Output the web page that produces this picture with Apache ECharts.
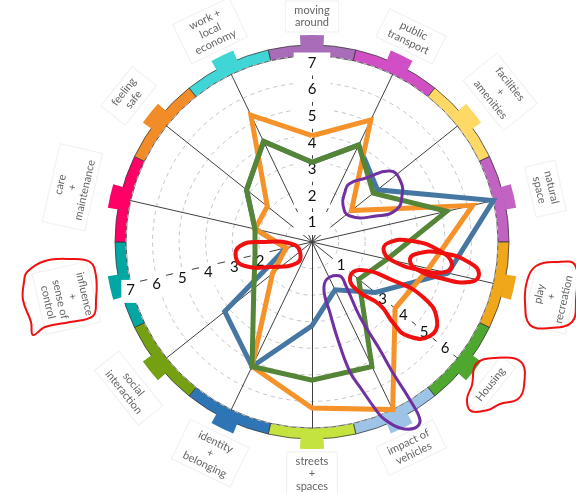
<!DOCTYPE html>
<html><head><meta charset="utf-8">
<script src="https://cdn.jsdelivr.net/npm/echarts@6/dist/echarts.min.js"></script>
<style>html,body{margin:0;padding:0;background:#fff}#c{width:576px;height:493px}</style>
</head><body><div id="c"></div>
<script>
// ---- data ----
const categories = ['moving\naround','public\ntransport','facilities\n+\namenities','natural\nspace','play\n+\nrecreation','Housing','impact of\nvehicles','streets\n+\nspaces','identity\n+\nbelonging','social\ninteraction','influence\n+\nsense of\ncontrol','care\n+\nmaintenance','feeling\nsafe','work +\nlocal\neconomy'];
const orangeValues = [4.0, 5.1, 1.9, 6.2, 4.5, 4.0, 7.0, 6.25, 5.2, 1.9, 1.0, 2.2, 2.15, 5.3];
const greenValues  = [3.0, 4.05, 2.95, 5.2, 2.9, 2.25, 5.2, 5.2, 5.2, 2.8, 2.2, 2.2, 3.15, 4.2];
const blueValues   = [3.0, 4.05, 3.15, 7.0, 5.25, 3.05, 2.0, 3.15, 5.2, 4.2, 1.0, 2.2, 3.15, 4.2];
const scaleMin = 0, scaleMax = 7;
const scaleTicks = [1, 2, 3, 4, 5, 6, 7];

// ---- styles ----
const ringColors = ['#A96CB9','#D14FC4','#FFD966','#C262C2','#F0A71A','#4EA72E','#9DC3E6','#C4E33F','#2E75B6','#74A012','#02A7A4','#FF0066','#F28C28','#40D6D6'];
const cx = 312, cy = 242, R = 186;
const N = categories.length;
// radar indicators run counter-clockwise, the reference runs clockwise
const order = [0].concat(categories.map((_, i) => i).slice(1).reverse());
const reorder = arr => order.map(i => arr[i]);

const labelAxes = {
  0:  {align: 'center', hide: [], pad: [3, 14, 5, 14]},
  10: {align: 'center', hide: [1], pad: [3, 5, 5, 5]},
  5:  {align: 'left',   hide: [2, 7], pad: [3, 4, 5, 4]}
};

const indicator = order.map(i => {
  const ind = {name: categories[i], min: scaleMin, max: scaleMax};
  const la = labelAxes[i];
  if (la) {
    ind.axisLabel = {
      show: true, margin: 0, align: la.align, verticalAlign: 'top', showMinLabel: false, showMaxLabel: true,
      hideOverlap: false,
      formatter: v => (scaleTicks.indexOf(v) < 0 || la.hide.indexOf(v) >= 0) ? '' : '{n|' + v + '}',
      rich: {n: {fontFamily: 'Lato', fontSize: 15, color: '#111', backgroundColor: '#fff', padding: la.pad, lineHeight: 16}}
    };
  }
  return ind;
});

function labelAngle(i) { return i * 360 / N; }
function labelRotate(i) {
  const th = labelAngle(i);
  if (th <= 90) return -th;
  if (th < 270) return 180 - th;
  return 360 - th;
}
function labelVAlign(i) {
  const th = labelAngle(i);
  return (th > 90 && th < 270) ? 'top' : 'bottom';
}
function labelRadius(i) {
  const s = Math.sin(labelAngle(i) * Math.PI / 180);
  return 1 + 0.07 * s * s;
}

const polarIdx = [0, 1, 2];
const radiusMax = [1, 1, 1.1];
const option = {
  backgroundColor: '#fff',
  animation: false,
  radar: {
    center: [cx, cy], radius: R, startAngle: 90, shape: 'circle', splitNumber: 7, z: 2,
    axisName: {show: false},
    axisLine: {lineStyle: {color: '#404040', width: 1}},
    axisTick: {show: false},
    splitLine: {lineStyle: {color: '#c4c4c4', width: 1, type: [4, 4]}},
    splitArea: {show: false},
    axisLabel: {show: false},
    indicator: indicator
  },
  polar: [
    {center: [cx, cy], radius: [R, R + 11]},
    {center: [cx, cy], radius: [R + 10, R + 21]},
    {center: [cx, cy], radius: [0, (R + 24) * 1.1]}
  ],
  angleAxis: polarIdx.map(p => ({
    polarIndex: p, type: 'category', data: categories, startAngle: 90 + 180 / N, clockwise: true,
    show: false, axisLine: {show: false}, axisTick: {show: false}, axisLabel: {show: false}, splitLine: {show: false}
  })),
  radiusAxis: polarIdx.map(p => ({
    polarIndex: p, type: 'value', min: 0, max: radiusMax[p], show: false,
    axisLine: {show: false}, axisTick: {show: false}, axisLabel: {show: false}, splitLine: {show: false}
  })),
  series: [
    {
      type: 'bar', coordinateSystem: 'polar', polarIndex: 0, barCategoryGap: '0%', z: 1, silent: true,
      itemStyle: {borderColor: '#3a3a3a', borderWidth: 0.8},
      data: ringColors.map(c => ({value: 1, itemStyle: {color: c}}))
    },
    {
      type: 'bar', coordinateSystem: 'polar', polarIndex: 1, barCategoryGap: '74%', z: 1, silent: true,
      data: ringColors.map(c => ({value: 1, itemStyle: {color: c}}))
    },
    {
      type: 'scatter', coordinateSystem: 'polar', polarIndex: 2, symbolSize: 1, z: 4, silent: true, clip: false,
      itemStyle: {color: 'rgba(0,0,0,0)'},
      data: categories.map((c, i) => ({value: [labelRadius(i), i], label: {rotate: labelRotate(i), verticalAlign: labelVAlign(i)}})),
      label: {
        show: true, position: 'inside', formatter: p => categories[p.dataIndex],
        fontFamily: 'Lato', fontSize: 11, lineHeight: 12.5, color: '#3a3a3a', align: 'center',
        borderColor: '#ececec', borderWidth: 1, padding: [3, 9]
      }
    },
    {
      type: 'radar', z: 3, symbol: 'none', silent: true,
      data: [
        {name: 'blue', value: reorder(blueValues), lineStyle: {color: '#4677A3', width: 5, join: 'miter'}, itemStyle: {color: '#4677A3'}},
        {name: 'orange', value: reorder(orangeValues), lineStyle: {color: '#F5922A', width: 5, join: 'miter'}, itemStyle: {color: '#F5922A'}},
        {name: 'green', value: reorder(greenValues), lineStyle: {color: '#558536', width: 5, join: 'miter'}, itemStyle: {color: '#558536'}}
      ]
    }
  ],
  graphic: [
    // hand-drawn highlight marks
    {type: 'polygon', z: 100, silent: true, shape: {smooth: 0.5, points: [[240,246],[262,242],[292,244],[300,252],[297,263],[270,267],[245,266],[236,258]]}, style: {stroke: '#F01010', lineWidth: 4, fill: null}},
    {type: 'polygon', z: 100, silent: true, shape: {smooth: 0.5, points: [[388,243],[412,241],[440,251],[452,264],[445,272],[420,270],[395,262],[384,252]]}, style: {stroke: '#F01010', lineWidth: 4, fill: null}},
    {type: 'polygon', z: 100, silent: true, shape: {smooth: 0.5, points: [[416,254],[442,253],[470,263],[479,274],[470,282],[440,278],[418,270],[410,261]]}, style: {stroke: '#F01010', lineWidth: 4, fill: null}},
    {type: 'polygon', z: 100, silent: true, shape: {smooth: 0.5, points: [[360,270],[392,280],[424,298],[437,320],[430,336],[408,336],[394,324],[380,305],[358,291],[350,278]]}, style: {stroke: '#F01010', lineWidth: 4, fill: null}},
    {type: 'polygon', z: 100, silent: true, shape: {smooth: 0.4, points: [[27,272],[45,261],[70,259],[90,262],[96,276],[96,300],[93,316],[70,322],[45,327],[33,335],[31,322],[23,300],[24,282]]}, style: {stroke: '#F01010', lineWidth: 2, fill: null}},
    {type: 'polygon', z: 100, silent: true, shape: {smooth: 0.4, points: [[536,266],[556,262],[575,265],[576,300],[572,322],[550,328],[530,325],[525,302],[527,281]]}, style: {stroke: '#F01010', lineWidth: 2, fill: null}},
    {type: 'polygon', z: 100, silent: true, shape: {smooth: 0.4, points: [[472,385],[476,364],[494,358],[521,362],[524,386],[518,399],[500,404],[488,410],[471,411],[467,399]]}, style: {stroke: '#F01010', lineWidth: 2, fill: null}},
    {type: 'polygon', z: 100, silent: true, shape: {smooth: 0.5, points: [[349,184],[366,178],[390,171],[400,180],[402,196],[396,210],[376,216],[350,216],[343,205],[345,192]]}, style: {stroke: '#7030A0', lineWidth: 3, fill: null}},
    {type: 'polygon', z: 100, silent: true, shape: {smooth: 0.4, points: [[327,279],[340,276],[346,286],[360,317],[380,350],[393,373],[410,400],[420,420],[415,428],[400,428],[384,419],[376,410],[362,390],[350,372],[338,340],[330,313],[324,291]]}, style: {stroke: '#7030A0', lineWidth: 3, fill: null}}
  ]
};
const chart = echarts.init(document.getElementById('c'), null, {renderer: 'canvas'});
chart.setOption(option);
</script>
</body></html>
